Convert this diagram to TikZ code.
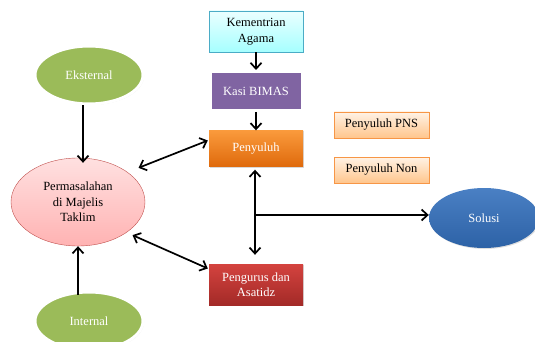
\documentclass[tikz,border=0pt]{standalone}
\usepackage{fontspec}
\setmainfont{Liberation Serif}
\usetikzlibrary{arrows.meta,shapes.geometric,shadows}

\definecolor{greenfill}{HTML}{9BBB59}
\definecolor{purplefill}{HTML}{8064A2}
\definecolor{orangeline}{HTML}{F79646}
\definecolor{orangetop}{HTML}{FA9A3C}
\definecolor{orangebot}{HTML}{DF6A0C}
\definecolor{redline}{HTML}{C0504D}
\definecolor{redtop}{HTML}{D4433F}
\definecolor{redbot}{HTML}{A32A27}
\definecolor{cyanline}{HTML}{4BACC6}
\definecolor{bluetop}{HTML}{4A80C4}
\definecolor{bluebot}{HTML}{2D62A6}

\begin{document}
\begin{tikzpicture}[x=1pt,y=-1pt,
    every node/.style={font=\fontsize{12.5}{15.5}\selectfont,align=center},
    arr/.style={line width=1.7pt,-{Straight Barb[length=6pt,width=11pt]}},
    arrboth/.style={line width=1.7pt,{Straight Barb[length=6pt,width=11pt]}-{Straight Barb[length=6pt,width=11pt]}},
    greenoval/.style={ellipse,fill=greenfill,draw=white,line width=3pt,text=white,
        minimum width=108pt,minimum height=58pt,inner sep=0pt,
        drop shadow={shadow xshift=1pt,shadow yshift=-1pt,opacity=0.25}},
    darkbox/.style={rectangle,text=white,minimum width=94pt,inner sep=0pt,
        drop shadow={shadow xshift=1pt,shadow yshift=-1pt,opacity=0.3}},
    peachbox/.style={rectangle,draw=orangeline,top color=orange!10,bottom color=orange!45,
        minimum width=95pt,minimum height=26pt,inner sep=0pt,
        drop shadow={shadow xshift=1pt,shadow yshift=-1pt,opacity=0.25}}
]
    \useasboundingbox (0,0) rectangle (535,342);

    %boxes in the middle
    \node[rectangle,draw=cyanline,top color=cyan!8,bottom color=cyan!35,
        minimum width=94pt,minimum height=41pt,inner sep=0pt] (kemenag) at (256,31.5) {Kementrian\\Agama};
    \node[darkbox,fill=purplefill,draw=white,line width=3pt,minimum width=92pt,minimum height=39pt] (kasi) at (256,91) {Kasi BIMAS};
    \node[darkbox,top color=orangetop,bottom color=orangebot,
        minimum height=36pt] (peny) at (256,148.5) {Penyuluh};
    \node[darkbox,top color=redtop,bottom color=redbot,
        minimum height=41pt] (peng) at (256,284.5) {Pengurus dan\\Asatidz};

    %penyuluh types
    \node[peachbox] (pns) at (381.5,125) {Penyuluh PNS};
    \node[peachbox] (non) at (381.5,170) {Penyuluh Non};

    %ovals
    \node[greenoval] (eks) at (89,75) {Eksternal};
    \node[greenoval] (intern) at (89,321) {Internal};
    \node[ellipse,draw=redline,top color=red!12,bottom color=red!30,
        minimum width=134pt,minimum height=88pt,inner sep=0pt] (perm) at (78,202) {Permasalahan\\di Majelis\\Taklim};
    \node[ellipse,top color=bluetop,bottom color=bluebot,text=white,
        minimum width=110pt,minimum height=60pt,inner sep=0pt,
        drop shadow={shadow xshift=1pt,shadow yshift=-1pt,opacity=0.25}] (sol) at (484,218) {Solusi};

    %arrows
    \draw[arr] (kemenag.south) -- (kasi.north);
    \draw[arr] (kasi.south) -- (peny.north);
    \draw[arr] ([xshift=-6pt]eks.south) -- ([xshift=5pt,yshift=-5pt]perm.north);
    \draw[arr] ([xshift=-11pt,yshift=-4pt]intern.north) -- (perm.south);
    \draw[arrboth] ([xshift=10pt,yshift=5pt]perm.30) -- ([xshift=-1pt,yshift=8pt]peny.west);
    \draw[arrboth] ([xshift=4pt,yshift=-4pt]perm.-30) -- ([xshift=-1pt,yshift=16pt]peng.west);
    \draw[arrboth] ([xshift=-1pt,yshift=-3pt]peny.south) -- ([xshift=-1pt,yshift=9pt]peng.north);

    %to solusi
    \coordinate (br) at (255,215);
    \draw[arr] (br) -- (br -| sol.west);
\end{tikzpicture}
\end{document}
